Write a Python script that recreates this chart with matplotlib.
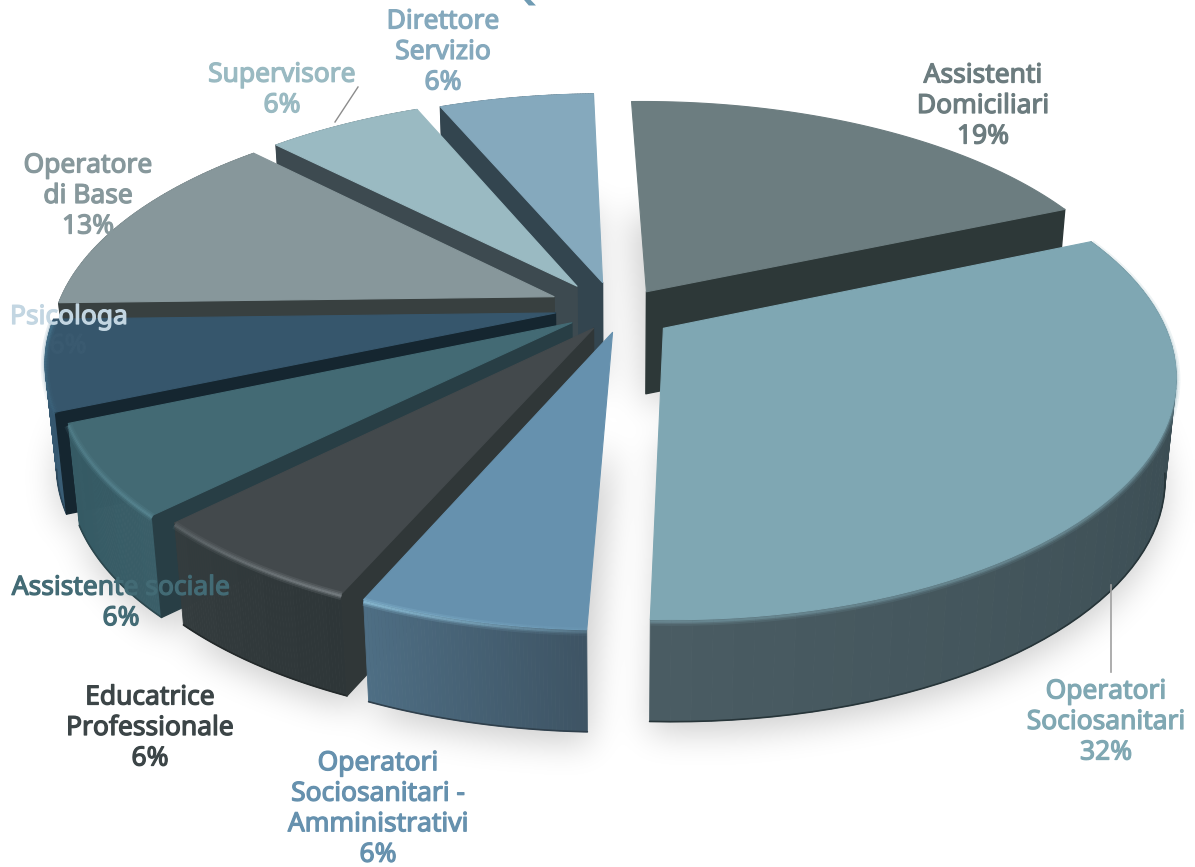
import numpy as np
import matplotlib
matplotlib.use('Agg')
import matplotlib.pyplot as plt
import matplotlib.patheffects as pe
from matplotlib.collections import PolyCollection, LineCollection
from matplotlib.colors import to_rgb
from matplotlib.patches import Polygon
from matplotlib.path import Path

# share of each role, clockwise from the top
ruoli = ['Assistenti\nDomiciliari', 'Operatori\nSociosanitari',
         'Operatori\nSociosanitari -\nAmministrativi', 'Educatrice\nProfessionale',
         'Assistente sociale', 'Psicologa', 'Operatore\ndi Base',
         'Supervisore', 'Direttore\nServizio']
valori = [19, 32, 6, 6, 6, 6, 13, 6, 6]
titolo = 'QUALIFICHE'

# colours of each slice: top, cut face, wall from left to right, rim light
col_top = ['#6c7d80', '#7fa7b3', '#6691ae', '#43494c', '#436a74', '#36566c', '#87979b', '#9abac2', '#85a9bd']
col_cut = ['#2d3838', '#2d3838', '#2d3838', '#303738', '#283e45', '#152630', '#384040', '#3d4a50', '#33454f']
col_wall_a = ['#2d3838', '#34464c', '#3e5464', '#2e3638', '#3a5e68', '#3a5e76', '#384040', '#3d4a50', '#33454f']
col_wall_b = ['#2d3838', '#4a5c63', '#4e6e84', '#343c3e', '#355a64', '#33546c', '#384040', '#3d4a50', '#33454f']
col_luce = [None, '#7fa7b3', '#92c6df', '#858c90', '#5f8f9b', '#4d7f99', None, None, None]
luce_a = [0, .6, .25, 1, .9, .2, 0, 0, 0]
luce_b = [0, .6, 1, .45, .6, .7, 0, 0, 0]
col_testo = ['#6c7c7f', '#80a8b3', '#6691ae', '#3c4547', '#436b75', '#c3d6e2', '#87989c', '#9abac2', '#85a9bd']
explode = [.10, .10, .11, .11, .12, .12, .12, .11, .11]
sposta_x = [3, 5, 8, 8, 5, -3, -8, -10, -3]
sposta_y = [4, 8, 0, 0, 0, 0, 0, 0, 0]

# label centres
pos_testo = [(983, 106), (1106, 722), (378, 809), (150, 728), (121, 603),
             (69, 317), (88, 196), (282, 90), (443, 52)]

cx, cy = 617, 307
sx, sy = 497, 232
persp = .185
alto = 102
start = -1.5


def proietta(u, v):
    f = 1/(1 + persp*v)
    return cx + sx*u*f, cy - sy*v*f


def rgb_mix(a, b, t):
    a = np.array(to_rgb(a))
    b = np.array(to_rgb(b))
    return a + (b - a)*t


def sfuma(m, r):
    # three box passes along each axis
    k = np.ones(2*r + 1)/(2*r + 1)
    for _ in range(3):
        m = np.apply_along_axis(lambda c: np.convolve(c, k, mode='same'), 0, m)
        m = np.apply_along_axis(lambda c: np.convolve(c, k, mode='same'), 1, m)
    return m


fig = plt.figure(figsize=(11.95, 8.67), dpi=100)
ax = fig.add_axes([0, 0, 1, 1])

cum = np.cumsum([0] + valori)*3.6 + start
medi = (cum[:-1] + cum[1:])/2
ordine = np.argsort(-np.cos(np.radians(medi)))

fette = []
for i in range(len(valori)):
    th = np.radians(np.linspace(cum[i], cum[i+1], 60))
    m = np.radians(medi[i])
    du, dv = explode[i]*np.sin(m), explode[i]*np.cos(m)
    rx, ry = proietta(np.sin(th) + du, np.cos(th) + dv)
    ax_, ay_ = proietta(du, dv)
    fette.append((rx + sposta_x[i], ry + sposta_y[i], ax_ + sposta_x[i], ay_ + sposta_y[i]))

# soft shadow under the pie
gx, gy = np.meshgrid(np.arange(0, 1195, 3), np.arange(0, 867, 3))
griglia = np.c_[gx.ravel(), gy.ravel()]
maschera = np.zeros(gx.shape)
for rx, ry, ax_, ay_ in fette:
    bx = cx + (np.r_[ax_, rx] - cx)*.98
    by = np.r_[ay_, ry] + alto + 10
    dentro = Path(np.c_[bx, by]).contains_points(griglia)
    maschera = np.maximum(maschera, dentro.reshape(gx.shape).astype(float))
maschera = sfuma(maschera, 5)
ombra = np.zeros(gx.shape + (4,))
ombra[..., 3] = .2*maschera
ax.imshow(ombra, extent=(0, 1195, 867, 0), origin='upper', aspect='auto', interpolation='bilinear', zorder=1)

ax.set_xlim(0, 1195)
ax.set_ylim(867, 0)
ax.axis('off')

for n, i in enumerate(ordine):
    z = 10 + n*5
    rx, ry, ax_, ay_ = fette[i]
    bx = cx + (rx - cx)*.98
    by = ry + alto
    abx = cx + (ax_ - cx)*.98
    aby = ay_ + alto

    # outer wall as narrow strips so the shade changes along the rim
    if i != 0:
        quad = [[(rx[j], ry[j]), (rx[j+1], ry[j+1]), (bx[j+1], by[j+1]), (bx[j], by[j])]
                for j in range(len(rx) - 1)]
        tt = np.linspace(0, 1, len(quad))
        colori = [rgb_mix(col_wall_a[i], col_wall_b[i], t) for t in tt]
        ax.add_collection(PolyCollection(quad, facecolors=colori, edgecolors=colori, linewidths=.6, zorder=z))
        # darker foot of the wall, only on the near side
        vicino = ry > cy + 60
        ax.plot(bx[vicino], by[vicino], color=rgb_mix(col_wall_a[i], '#000000', .25), lw=1.2,
                solid_capstyle='round', zorder=z)

    # cut faces: the first one for the left half, the last one for the first slice
    if i >= 3:
        ax.add_patch(Polygon([(ax_, ay_), (rx[0], ry[0]), (bx[0], by[0]), (abx, aby)],
                             closed=True, fc=col_cut[i], ec=col_cut[i], lw=1, joinstyle='round', zorder=z+1))
    elif i == 0:
        ax.add_patch(Polygon([(ax_, ay_), (rx[-1], ry[-1]), (bx[-1], by[-1]), (abx, aby)],
                             closed=True, fc=col_cut[i], ec=col_cut[i], lw=1, joinstyle='round', zorder=z+1))

    ax.add_patch(Polygon(np.c_[np.r_[ax_, rx], np.r_[ay_, ry]], closed=True,
                         fc=col_top[i], ec=col_top[i], lw=.8, joinstyle='round', zorder=z+2))

    # light along the rim
    if col_luce[i] is not None:
        pesi = np.interp(np.linspace(0, 1, len(rx) - 1), [0, 1], [luce_a[i], luce_b[i]])
        seg = [[(rx[j], ry[j] + 2), (rx[j+1], ry[j+1] + 2)] for j in range(len(rx) - 1)]
        rgb = to_rgb(col_luce[i])
        for lw, al in [(6, .22), (3.5, .35), (1.6, .6)]:
            ax.add_collection(LineCollection(seg, colors=[(*rgb, al*p) for p in pesi], linewidths=lw, zorder=z+3))

# leader lines
ax.plot([335, 358], [122, 87], color='#8c8c8c', lw=1, zorder=80)
ax.plot([1111, 1111], [585, 672], color='#a0a0a0', lw=1.2, zorder=80)

font = 'Noto Sans'


def etichetta(x, y, testo, colore):
    t = ax.text(x, y, testo, color=colore, fontsize=19, family=font, ha='center', va='center',
                multialignment='center', linespacing=1.12, zorder=90, clip_on=False)
    t.set_path_effects([pe.withStroke(linewidth=.9, foreground=colore)])


for i in range(len(valori)):
    if i == 5:
        # the percentage of this label sits on its slice in a near colour
        etichetta(pos_testo[i][0], pos_testo[i][1], ruoli[i], col_testo[i])
        etichetta(68, 346, '%d%%' % valori[i], '#3a5a70')
    else:
        etichetta(pos_testo[i][0], pos_testo[i][1], ruoli[i] + '\n%d%%' % valori[i], col_testo[i])

# the heading runs off the top edge
fig.text(498/1195, 1 + 4/867, titolo, color='#6f9bb3', fontsize=40, fontweight='bold', family=font,
         ha='left', va='baseline')

fig.savefig('out.png', dpi=100, facecolor='white')
